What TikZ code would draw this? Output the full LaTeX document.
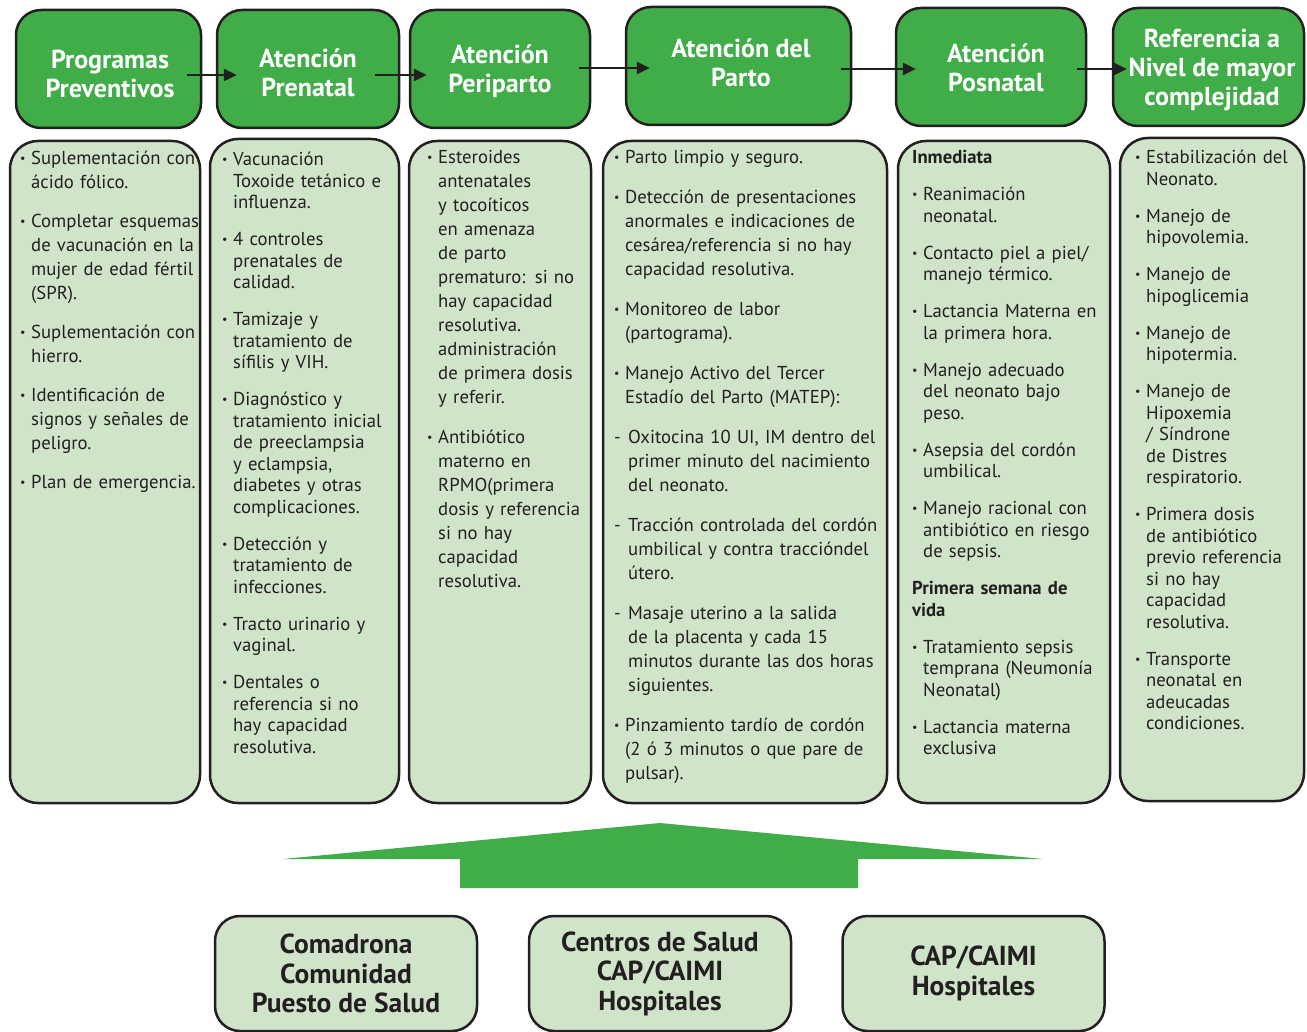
\documentclass[tikz,border=0pt]{standalone}
\usepackage{fontspec}
\setmainfont{PT Sans}
\usetikzlibrary{arrows.meta}
\definecolor{hgreen}{HTML}{41AD49}
\definecolor{lgreen}{HTML}{D0E4C9}
\definecolor{ink}{HTML}{231F20}
\newlength\igap
\newcommand\bul{\makebox[11pt][l]{\fontsize{12}{12}\selectfont\raisebox{2pt}{\textbullet}}}
\newcommand\itm[1]{\par{\let\\\newline\hangindent=11pt\hangafter=1\noindent\bul#1\par}\vskip\igap}
\newcommand\dsh[1]{\par{\let\\\newline\hangindent=14pt\hangafter=1\noindent\makebox[14pt][l]{-}#1\par}\vskip\igap}
\newcommand\hd[1]{\par{\let\\\newline\noindent\textbf{#1}\par}\vskip\igap}
\begin{document}
\begin{tikzpicture}[x=1pt, y=-1pt, line join=round, >={Triangle[length=13pt,width=12pt]},
  hbox/.style={draw=ink, line width=2.5pt, fill=hgreen, rounded corners=25pt, minimum height=118pt, inner sep=0pt},
  htext/.style={inner sep=0pt, text=white, align=center, font=\bfseries\fontsize{26}{29}\selectfont},
  colbox/.style={draw=ink, line width=2.5pt, fill=lgreen, rounded corners=28pt, inner sep=0pt},
  levbox/.style={draw=ink, line width=2.5pt, fill=lgreen, rounded corners=25pt, minimum width=262pt,
    minimum height=115pt, inner sep=0pt, text=ink, align=center, font=\bfseries\fontsize{27.5}{29.5}\selectfont},
  coltext/.style n args={2}{anchor=base west, yshift=#1, inner sep=0pt, text width=290pt, align=left, text=ink,
    font=\fontsize{18.7}{#1}\selectfont, execute at begin node={\setlength\igap{#2}}}]
\useasboundingbox (0,0) rectangle (1307,1032);
% columns
\node[colbox, minimum width=190pt, minimum height=662pt] (b1) at (105,472) {};
\node[colbox, minimum width=189pt, minimum height=664pt] (b2) at (304.5,471) {};
\node[colbox, minimum width=182pt, minimum height=662pt] (b3) at (500,472) {};
\node[colbox, minimum width=284pt, minimum height=662pt] (b4) at (745,472) {};
\node[colbox, minimum width=212pt, minimum height=662pt] (b5) at (1004,472) {};
\node[colbox, minimum width=184pt, minimum height=663pt] (b6) at (1212,469.5) {};
% headers
\node[hbox, minimum width=185pt] (h1) at (108.5,69) {};
\node[hbox, minimum width=182pt] (h2) at (308,69) {};
\node[hbox, minimum width=180pt] (h3) at (500,69) {};
\node[hbox, minimum width=225pt] (h4) at (738.5,66) {};
\node[hbox, minimum width=190pt] (h5) at (991,67) {};
\node[hbox, minimum width=191pt] (h6) at (1208.5,67) {};
\node[htext] (l1) at (110,74) {Programas\\Preventivos};
\node[htext] (l2) at (308,73) {Atención\\Prenatal};
\node[htext] (l3) at (500,71) {Atención\\Periparto};
\node[htext] (l4) at (741,62.5) {Atención del\\Parto};
\node[htext] (l5) at (996,67.5) {Atención\\Posnatal};
\node[htext] (l6) at (1212,70) {Referencia a\\Nivel de mayor\\complejidad};
\foreach \a/\b/\sa/\ya/\sb/\yb in {h1/h2/-15/6/21/6, h2/h3/-25/6/18/6, h3/h4/-12/-1/25/2,
    h4/h5/-11/3/21/2, h5/h6/-10/2/15/2}
  \draw[->, line width=2.5pt, ink] ([shift={(\sa,\ya)}]\a.east) -- ([shift={(\sb,\yb)}]\b.west);
% texts
\node[coltext={24pt}{15pt}] (t1) at (20,165) {%
\itm{Suplementación con\\ácido fólico.}
\itm{Completar esquemas\\de vacunación en la\\mujer de edad fértil\\(SPR).}
\itm{Suplementación con\\hierro.}
\itm{Identificación de\\signos y señales de\\peligro.}
\itm{Plan de emergencia.}};
\node[coltext={21.5pt}{15.5pt}] (t2) at (222,166) {%
\itm{Vacunación\\Toxoide tetánico e\\influenza.}
\itm{4 controles\\prenatales de\\calidad.}
\itm{Tamizaje y\\tratamiento de\\sífilis y VIH.}
\itm{Diagnóstico y\\tratamiento inicial\\de preeclampsia\\y eclampsia,\\diabetes y otras\\complicaciones.}
\itm{Detección y\\tratamiento de\\infecciones.}
\itm{Tracto urinario y\\vaginal.}
\itm{Dentales o\\referencia si no\\hay capacidad\\resolutiva.}};
\node[coltext={24pt}{16pt}] (t3) at (427,164) {%
\itm{Esteroides\\antenatales\\y tocoíticos\\en amenaza\\de parto\\prematuro: si no\\hay capacidad\\resolutiva.\\administración\\de primera dosis\\y referir.}
\itm{Antibiótico\\materno en\\RPMO(primera\\dosis y referencia\\si no hay\\capacidad\\resolutiva.}};
\node[coltext={24pt}{16pt}] (t4) at (614,164) {%
\itm{Parto limpio y seguro.}
\itm{Detección de presentaciones\\anormales e indicaciones de\\cesárea/referencia si no hay\\capacidad resolutiva.}
\itm{Monitoreo de labor\\(partograma).}
\itm{Manejo Activo del Tercer\\Estadío del Parto (MATEP):}
\dsh{Oxitocina 10 UI, IM dentro del\\primer minuto del nacimiento\\del neonato.}
\dsh{Tracción controlada del cordón\\umbilical y contra traccióndel\\útero.}
\dsh{Masaje uterino a la salida\\de la placenta y cada 15\\minutos durante las dos horas\\siguientes.}
\itm{Pinzamiento tardío de cordón\\(2 ó 3 minutos o que pare de\\pulsar).}};
\node[coltext={21.5pt}{15.5pt}] (t5) at (912,164) {%
\hd{Inmediata}
\itm{Reanimación\\neonatal.}
\itm{Contacto piel a piel/\\manejo térmico.}
\itm{Lactancia Materna en\\la primera hora.}
\itm{Manejo adecuado\\del neonato bajo\\peso.}
\itm{Asepsia del cordón\\umbilical.}
\itm{Manejo racional con\\antibiótico en riesgo\\de sepsis.}
\hd{Primera semana de\\vida}
\itm{Tratamiento sepsis\\temprana (Neumonía\\Neonatal)}
\itm{Lactancia materna\\exclusiva}};
\node[coltext={21.5pt}{15.5pt}] (t6) at (1135,164) {%
\itm{Estabilización del\\Neonato.}
\itm{Manejo de\\hipovolemia.}
\itm{Manejo de\\hipoglicemia}
\itm{Manejo de\\hipotermia.}
\itm{Manejo de\\Hipoxemia\\/ Síndrone\\de Distres\\respiratorio.}
\itm{Primera dosis\\de antibiótico\\previo referencia\\si no hay\\capacidad\\resolutiva.}
\itm{Transporte\\neonatal en\\adeucadas\\condiciones.}};
% big arrow
\fill[hgreen] (283,859) -- (660,823) -- (1043,859) -- (858,859) -- (858,888) -- (460,888) -- (460,859) -- cycle;
% levels
\node[levbox] (c1) at (346,973.5) {Comadrona\\Comunidad\\Puesto de Salud};
\node[levbox] (c2) at (660,973.5) {Centros de Salud\\CAP/CAIMI\\Hospitales};
\node[levbox] (c3) at (973.5,973.5) {CAP/CAIMI\\Hospitales};
\end{tikzpicture}
\end{document}
